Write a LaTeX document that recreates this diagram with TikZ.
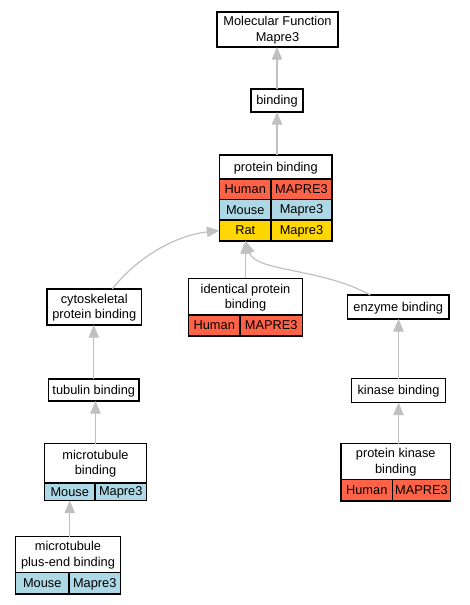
\documentclass[tikz,border=0pt]{standalone}
\usepackage{fontspec}
\setmainfont{Liberation Sans}
\usetikzlibrary{fit,arrows.meta,calc}
\definecolor{human}{RGB}{255,99,71}
\definecolor{mouse}{RGB}{173,216,230}
\definecolor{rat}{RGB}{255,215,0}
\definecolor{edgegray}{RGB}{192,192,192}
\newcommand\st{\rule{0pt}{8pt}\rule[-1.6pt]{0pt}{1.6pt}}
\tikzset{
  cellbox/.style={draw=black, line width=0.95pt, inner sep=0pt, outer sep=0pt},
  txt/.style={font=\fontsize{9.6}{11.3}\selectfont, align=center, inner sep=0pt},
  edge/.style={draw=edgegray, line width=0.9pt, -{Triangle[length=9.5pt,width=7.8pt]}},
}
\newcommand\cell[7]{%
  \node[cellbox, fill=#6, fit={(#2,#3) (#4,#5)}] (#1) {};
  \node[txt] (#1-t) at (#1.center) {#7};}
\begin{document}
\begin{tikzpicture}[x=0.75pt,y=-0.75pt]
\useasboundingbox (0,0) rectangle (469,605);
% Molecular Function
\cell{mf}{217}{12}{338}{47}{white}{\st Molecular Function\\\st Mapre3}
\cell{bind}{251}{89}{303}{112}{white}{\st binding}
% protein binding
\cell{pbt}{219.5}{155}{332}{179}{white}{\st protein binding}
\cell{pbhl}{219.5}{179}{271}{199.5}{human}{\st Human}
\cell{pbhr}{271}{179}{332}{199.5}{human}{\st MAPRE3}
\cell{pbml}{219.5}{199.5}{271}{220}{mouse}{\st Mouse}
\cell{pbmr}{271}{199.5}{332}{220}{mouse}{\st Mapre3}
\cell{pbrl}{219.5}{220}{271}{241}{rat}{\st Rat}
\cell{pbrr}{271}{220}{332}{241}{rat}{\st Mapre3}
% cytoskeletal
\cell{cyto}{47}{289}{141.5}{325}{white}{\st cytoskeletal\\\st protein binding}
% identical
\cell{idt}{188.5}{278.5}{302.5}{315}{white}{\st identical protein\\\st binding}
\cell{idhl}{188.5}{315}{240}{336}{human}{\st Human}
\cell{idhr}{240}{315}{302.5}{336}{human}{\st MAPRE3}
% enzyme / kinase
\cell{enz}{347.5}{295}{449}{319}{white}{\st enzyme binding}
\cell{kin}{351.5}{378.5}{445.5}{402.5}{white}{\st kinase binding}
\cell{pkt}{341}{443.5}{450.5}{479.5}{white}{\st protein kinase\\\st binding}
\cell{pkhl}{341}{479.5}{392.5}{501}{human}{\st Human}
\cell{pkhr}{392.5}{479.5}{450.5}{501}{human}{\st MAPRE3}
% tubulin / microtubule
\cell{tub}{48.5}{379}{139}{401}{white}{\st tubulin binding}
\cell{mtt}{44.5}{443.5}{146.5}{483}{white}{\st microtubule\\\st binding}
\cell{mtml}{44.5}{483}{95}{500.5}{mouse}{\st Mouse}
\cell{mtmr}{95}{483}{146.5}{500.5}{mouse}{\st Mapre3}
\cell{pet}{15.5}{536.5}{120.5}{572.5}{white}{\st microtubule\\\st plus-end binding}
\cell{peml}{15.5}{572.5}{69}{594}{mouse}{\st Mouse}
\cell{pemr}{69}{572.5}{120.5}{594}{mouse}{\st Mapre3}
% edges
\draw[edge] (bind.north) -- (bind.north |- mf.south);
\draw[edge] (pbt.north -| bind.south) -- (bind.south);
\draw[edge] ([xshift=13.5pt]cyto.north) .. controls (135,260) and (172,236) .. (pbrl.west);
\draw[edge] (idt.north) -- (idt.north |- pbrl.south);
\draw[edge] ([xshift=-21pt]enz.north) .. controls (322,268) and (256,272) .. (idt.north |- pbrl.south);
\draw[edge] (kin.north) -- (kin.north |- enz.south);
\draw[edge] (pkt.north -| kin.south) -- (kin.south);
\draw[edge] (tub.north) -- (tub.north |- cyto.south);
\draw[edge] (mtt.north) -- (mtt.north |- tub.south);
\draw[edge] (pet.north -| mtml.south) -- (mtml.south);
\end{tikzpicture}
\end{document}
